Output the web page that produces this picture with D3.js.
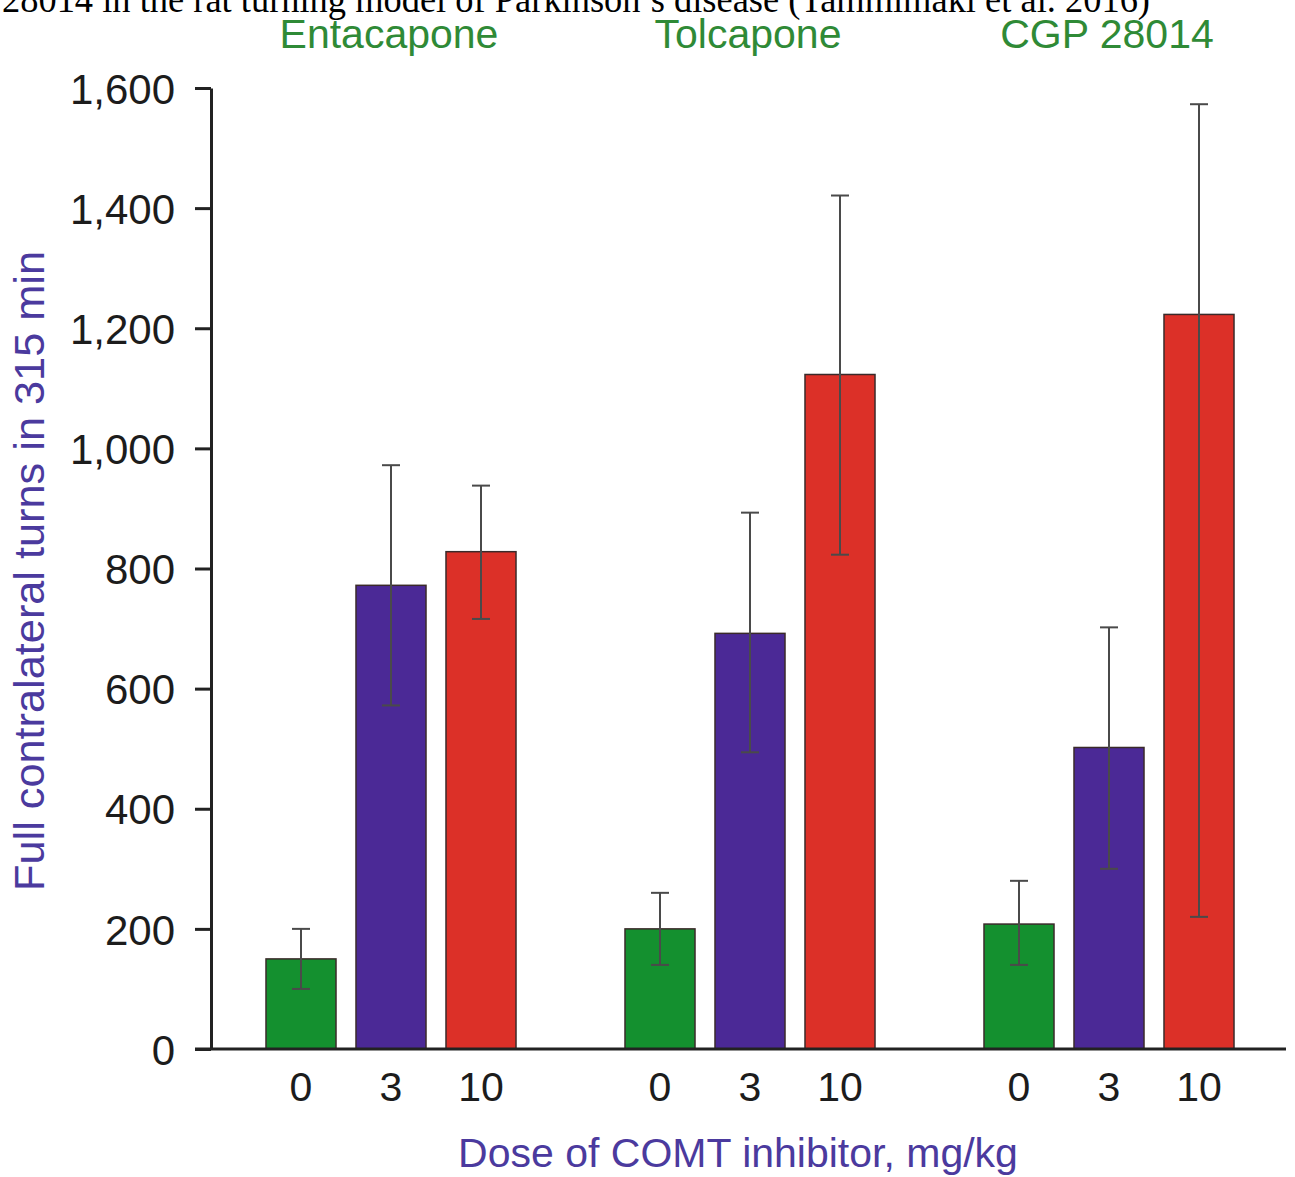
<!DOCTYPE html>
<html>
<head>
<meta charset="utf-8">
<script src="https://cdn.jsdelivr.net/npm/d3@7"></script>
<style>
  html, body { margin: 0; padding: 0; background: #fff; }
  svg { display: block; }
</style>
</head>
<body>
<script>
// ---- Data ----
const groups = ["Entacapone", "Tolcapone", "CGP 28014"];
const doses = ["0", "3", "10"];
const entacaponeMeans = [150, 772, 828];
const entacaponeErrUp = [50, 200, 110];
const entacaponeErrDown = [50, 200, 112];
const tolcaponeMeans = [200, 692, 1123];
const tolcaponeErrUp = [60, 201, 298];
const tolcaponeErrDown = [60, 198, 300];
const cgpMeans = [208, 502, 1223];
const cgpErrUp = [72, 200, 350];
const cgpErrDown = [68, 202, 1003];
const yTicks = [0, 200, 400, 600, 800, 1000, 1200, 1400, 1600];
const doseColors = ["#14902f", "#4b2996", "#dc3028"];
const captionText = "28014 in the rat turning model of Parkinson\u2019s disease (Tammimaki et al. 2016)";
const yTitle = "Full contralateral turns in 315 min";
const xTitle = "Dose of COMT inhibitor, mg/kg";

const meansByGroup = [entacaponeMeans, tolcaponeMeans, cgpMeans];
const upByGroup = [entacaponeErrUp, tolcaponeErrUp, cgpErrUp];
const downByGroup = [entacaponeErrDown, tolcaponeErrDown, cgpErrDown];
const rows = [];
groups.forEach((g, gi) => doses.forEach((d, di) => rows.push({
  group: g, dose: d, di, mean: meansByGroup[gi][di],
  hi: meansByGroup[gi][di] + upByGroup[gi][di],
  lo: meansByGroup[gi][di] - downByGroup[gi][di]
})));

// ---- Layout ----
const W = 1295, H = 1177;
const svg = d3.select("body").append("svg").attr("width", W).attr("height", H);
const sans = "'Liberation Sans', Arial, Helvetica, sans-serif";

const y = d3.scaleLinear().domain([0, 1600]).range([1049, 88]);
const xGroup = d3.scaleBand().domain(groups).range([211.5, 1288.5]).padding(0);
const xDose = d3.scaleBand().domain(doses).range([44.5, 314.5]).paddingInner(0.222).paddingOuter(0.111);

// caption (cut off at top)
svg.append("text")
  .attr("x", 2).attr("y", 12)
  .attr("font-family", "'Liberation Serif', 'Times New Roman', serif")
  .attr("font-size", 38)
  .attr("textLength", 1148).attr("lengthAdjust", "spacingAndGlyphs")
  .attr("fill", "#000")
  .text(captionText);

// group labels
svg.append("g").selectAll("text").data(groups).join("text")
  .attr("x", d => xGroup(d) + xDose("3") + xDose.bandwidth() / 2 - 2)
  .attr("y", 48)
  .attr("text-anchor", "middle")
  .attr("font-family", sans).attr("font-size", 41)
  .attr("fill", "#2f8a36")
  .text(d => d);

// bars
const barG = svg.append("g");
barG.selectAll("rect").data(rows).join("rect")
  .attr("x", d => xGroup(d.group) + xDose(d.dose))
  .attr("y", d => y(d.mean))
  .attr("width", xDose.bandwidth())
  .attr("height", d => y(0) - y(d.mean))
  .attr("fill", d => doseColors[d.di])
  .attr("stroke", "#3a2a2a").attr("stroke-width", 1.5);

// error bars
const errG = svg.append("g").attr("stroke", "#4a4a4a").attr("stroke-width", 2);
const cx = d => xGroup(d.group) + xDose(d.dose) + xDose.bandwidth() / 2;
errG.selectAll("line.v").data(rows).join("line").attr("class", "v")
  .attr("x1", cx).attr("x2", cx)
  .attr("y1", d => y(d.hi)).attr("y2", d => y(d.lo));
errG.selectAll("line.t").data(rows).join("line").attr("class", "t")
  .attr("x1", d => cx(d) - 9).attr("x2", d => cx(d) + 9)
  .attr("y1", d => y(d.hi)).attr("y2", d => y(d.hi));
errG.selectAll("line.b").data(rows).join("line").attr("class", "b")
  .attr("x1", d => cx(d) - 9).attr("x2", d => cx(d) + 9)
  .attr("y1", d => y(d.lo)).attr("y2", d => y(d.lo));

// y axis
const yAxis = d3.axisLeft(y).tickValues(yTicks).tickFormat(d3.format(",")).tickSizeInner(16).tickSizeOuter(0).tickPadding(20);
const yg = svg.append("g").attr("transform", "translate(211,0)").call(yAxis);
yg.select(".domain").attr("stroke", "#222").attr("stroke-width", 3);
yg.selectAll(".tick line").attr("stroke", "#222").attr("stroke-width", 3);
yg.selectAll(".tick text").attr("font-family", sans).attr("font-size", 42).attr("fill", "#1c1c1c").attr("dy", "0.36em");

// x axis baseline
const xAxisG = svg.append("g").attr("transform", `translate(0,${y(0)})`);
xAxisG.append("line").attr("x1", 195).attr("x2", 1286).attr("stroke", "#222").attr("stroke-width", 3);

// x tick labels (doses)
svg.append("g").selectAll("text").data(rows).join("text")
  .attr("x", cx)
  .attr("y", 1101)
  .attr("text-anchor", "middle")
  .attr("font-family", sans).attr("font-size", 41)
  .attr("fill", "#1c1c1c")
  .text(d => d.dose);

// axis titles
svg.append("text")
  .attr("transform", "translate(44,571) rotate(-90)")
  .attr("text-anchor", "middle")
  .attr("font-family", sans).attr("font-size", 42)
  .attr("textLength", 640).attr("lengthAdjust", "spacingAndGlyphs")
  .attr("fill", "#4b3a9e")
  .text(yTitle);

svg.append("text")
  .attr("x", 738).attr("y", 1167)
  .attr("text-anchor", "middle")
  .attr("font-family", sans).attr("font-size", 41)
  .attr("fill", "#4b3a9e")
  .text(xTitle);
</script>
</body>
</html>
